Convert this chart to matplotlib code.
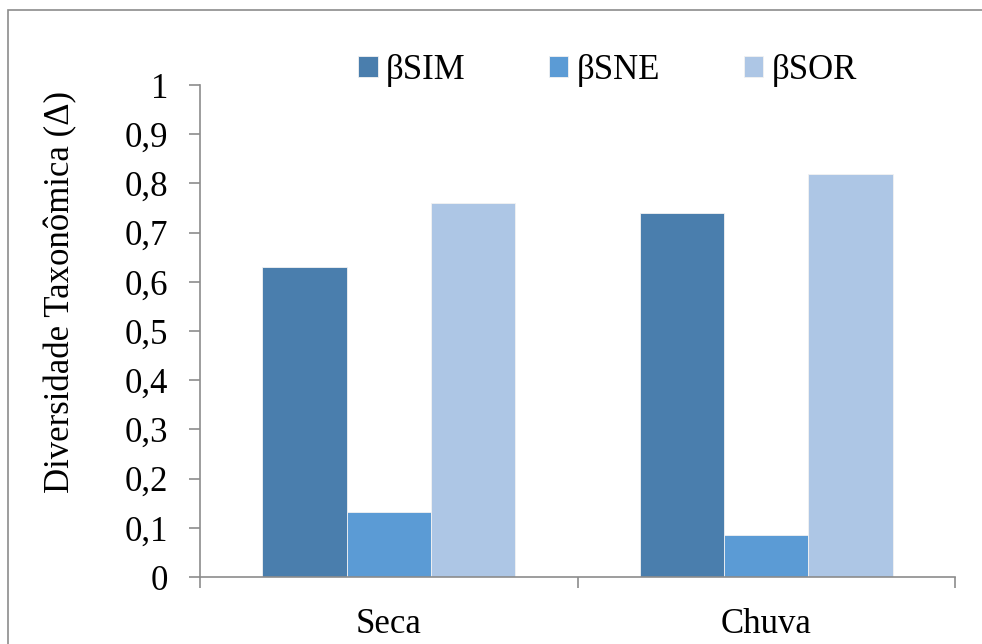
import numpy as np
import matplotlib.pyplot as plt
from matplotlib.patches import Rectangle

# data
categories = ['Seca', 'Chuva']
series = ['βSIM', 'βSNE', 'βSOR']
b_sim = [0.63, 0.74]
b_sne = [0.132, 0.085]
b_sor = [0.76, 0.82]
colors = ['#4a7ead', '#5b9bd5', '#adc6e5']
yticks = [0, 0.1, 0.2, 0.3, 0.4, 0.5, 0.6, 0.7, 0.8, 0.9, 1]
ytick_labels = ['0', '0,1', '0,2', '0,3', '0,4', '0,5', '0,6', '0,7', '0,8', '0,9', '1']

plt.rcParams['font.family'] = ['Liberation Serif', 'DejaVu Serif']

fig = plt.figure(figsize=(9.82, 6.44), dpi=100)
ax = fig.add_axes([200/982, 1-577/644, 755/982, 492/644])

# outer frame of the chart area
fig.patches.append(Rectangle((8/982, -0.05), 1.0, 1-10/644+0.05, transform=fig.transFigure,
                             fill=False, edgecolor='#8c8c8c', lw=1.2))

x = np.arange(len(categories))
w = 0.223
for i, (vals, c, name) in enumerate(zip([b_sim, b_sne, b_sor], colors, series)):
    ax.bar(x + (i-1)*w, vals, w, color=c, edgecolor='#f2f2f2', lw=0.6, label=name, zorder=2)

ax.set_xlim(-0.5, 1.5)
ax.set_ylim(0, 1)
ax.set_yticks(yticks)
ax.set_yticklabels(ytick_labels, fontsize=25)
ax.set_xticks(x)
ax.set_xticklabels(categories, fontsize=25)
ax.set_xticks([-0.5, 0.5, 1.5], minor=True)
ax.tick_params(axis='x', which='major', length=0, pad=22)
ax.tick_params(axis='x', which='minor', length=8, color='#8c8c8c', width=1.2)
ax.tick_params(axis='y', length=8, color='#8c8c8c', width=1.2, pad=15)

for s in ['top', 'right']:
    ax.spines[s].set_visible(False)
for s in ['left', 'bottom']:
    ax.spines[s].set_color('#8c8c8c')
    ax.spines[s].set_linewidth(1.2)

ax.set_ylabel('Diversidade Taxonômica (Δ)', fontsize=25)
ax.yaxis.set_label_coords(-0.162, 0.579)

ax.legend(loc='center', bbox_to_anchor=(0.54, 1.029), ncol=3, frameon=False,
          fontsize=25, handlelength=0.55, handleheight=0.55, handletextpad=0.25,
          columnspacing=2.4)

fig.savefig('out.png', dpi=100)
